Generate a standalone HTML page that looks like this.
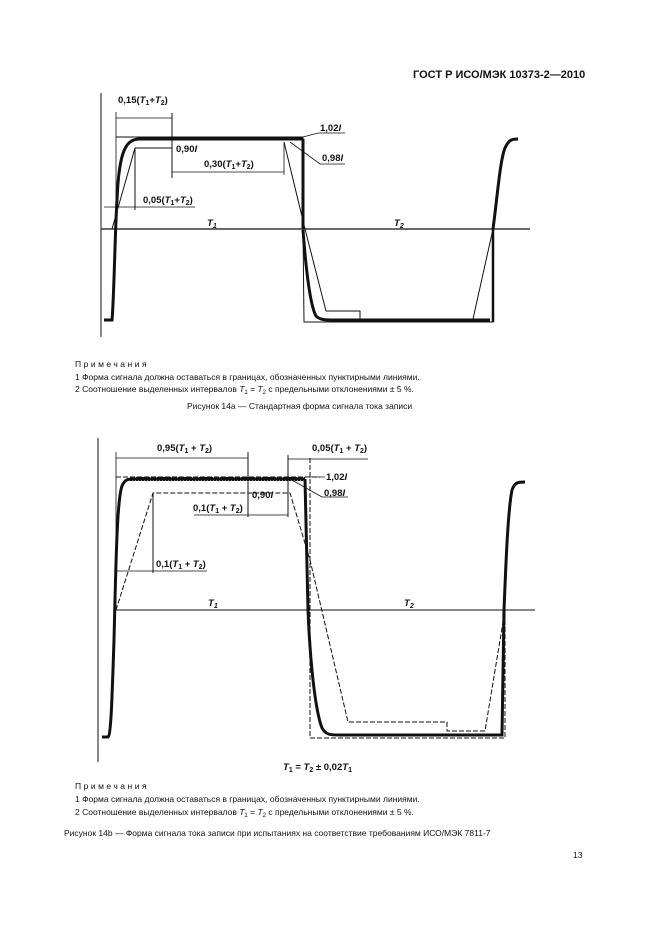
<!DOCTYPE html>
<html><head><meta charset="utf-8"><style>
html,body{margin:0;padding:0;background:#fff}
svg{display:block}
text{font-family:"Liberation Sans",sans-serif;fill:#111}
.b{font-weight:bold;font-size:9.5px}
.n{font-size:8.5px}
.i{font-style:italic}
</style></head><body>
<svg width="661" height="936" viewBox="0 0 661 936" xmlns="http://www.w3.org/2000/svg">
<text x="413" y="78" style="font-weight:bold;font-size:11px">ГОСТ Р ИСО/МЭК 10373-2—2010</text>

<!-- Figure 14a -->
<g stroke="#111" fill="none">
<line x1="101" y1="93" x2="101" y2="337" stroke-width="1"/>
<line x1="101" y1="229" x2="530" y2="229" stroke-width="1.2"/>
<!-- upper limit -->
<line x1="116" y1="137" x2="303" y2="137" stroke-width="1"/>
<line x1="116" y1="112" x2="116" y2="229" stroke-width="0.8"/>
<!-- dims -->
<line x1="116" y1="118" x2="172" y2="118" stroke-width="0.8"/>
<line x1="172" y1="113" x2="172" y2="178" stroke-width="1"/>
<line x1="172" y1="172" x2="284" y2="172" stroke-width="0.8"/>
<line x1="284" y1="142" x2="284" y2="175" stroke-width="0.8"/>
<line x1="104" y1="207" x2="195" y2="207" stroke-width="0.8"/>
<line x1="135" y1="148" x2="135" y2="210" stroke-width="1"/>
<!-- lower trapezoid -->
<polyline points="112,229 135,148 172,148" stroke-width="1"/>
<polyline points="284,142 305,229 326,311 360,311 360,319" stroke-width="1"/>
<polyline points="473,319 493,229 303,229" stroke-width="0" />
<line x1="473" y1="319" x2="493" y2="229" stroke-width="1"/>
<!-- outer bound -->
<polyline points="303,137 303,229 304,322 493,322 493,229" stroke-width="1"/>
<line x1="303" y1="139" x2="303" y2="229" stroke-width="3"/>
<line x1="493" y1="229" x2="493" y2="322" stroke-width="2.5"/>
<!-- signal -->
<path d="M104,320 L112,320 C114,300 115,230 117,200 C119,150 126,139 140,139 L303,139" stroke-width="3"/>
<path d="M303,230 C306,270 310,305 316,316 C320,320 325,320 335,320 L490,320" stroke-width="3"/>
<path d="M493,229 C497,200 500,160 505,148 C509,139 513,139 518,139" stroke-width="3"/>
<!-- leaders -->
<polyline points="303,137 318,133 345,133" stroke-width="0.8"/>
<polyline points="290,142 320,164 345,164" stroke-width="0.8"/>
</g>
<text x="118" y="103" class="b">0,15(<tspan class="i">T</tspan><tspan font-size="7" dy="2">1</tspan><tspan dy="-2">+</tspan><tspan class="i">T</tspan><tspan font-size="7" dy="2">2</tspan><tspan dy="-2">)</tspan></text>
<text x="176" y="152" class="b">0,90<tspan class="i">I</tspan></text>
<text x="204" y="167" class="b">0,30(<tspan class="i">T</tspan><tspan font-size="7" dy="2">1</tspan><tspan dy="-2">+</tspan><tspan class="i">T</tspan><tspan font-size="7" dy="2">2</tspan><tspan dy="-2">)</tspan></text>
<text x="143" y="203" class="b">0,05(<tspan class="i">T</tspan><tspan font-size="7" dy="2">1</tspan><tspan dy="-2">+</tspan><tspan class="i">T</tspan><tspan font-size="7" dy="2">2</tspan><tspan dy="-2">)</tspan></text>
<text x="320" y="131" class="b">1,02<tspan class="i">I</tspan></text>
<text x="322" y="161" class="b">0,98<tspan class="i">I</tspan></text>
<text x="207" y="226" class="b i">T<tspan font-size="7" dy="2">1</tspan></text>
<text x="394" y="226" class="b i">T<tspan font-size="7" dy="2">2</tspan></text>

<text x="75" y="367" class="n" letter-spacing="2.5">Примечания</text>
<text x="75" y="380" class="n">1  Форма сигнала должна оставаться в границах, обозначенных пунктирными линиями.</text>
<text x="75" y="392" class="n">2  Соотношение выделенных интервалов <tspan class="i">T</tspan><tspan font-size="6" dy="2">1</tspan><tspan dy="-2"> = </tspan><tspan class="i">T</tspan><tspan font-size="6" dy="2">2</tspan><tspan dy="-2"> с предельными отклонениями ± 5 %.</tspan></text>
<text x="187" y="409" class="n">Рисунок 14а — Стандартная форма сигнала тока записи</text>

<!-- Figure 14b -->
<g stroke="#111" fill="none">
<line x1="98" y1="438" x2="98" y2="762" stroke-width="1"/>
<line x1="116" y1="610" x2="535" y2="610" stroke-width="1"/>
<line x1="116" y1="452" x2="116" y2="610" stroke-width="0.8"/>
<line x1="116" y1="477" x2="320" y2="477" stroke-width="1" stroke-dasharray="5,2"/>
<line x1="116" y1="458" x2="248" y2="458" stroke-width="0.8"/>
<line x1="248" y1="452" x2="248" y2="517" stroke-width="1"/>
<line x1="194" y1="515" x2="288" y2="515" stroke-width="0.8"/>
<line x1="288" y1="455" x2="288" y2="517" stroke-width="1"/>
<line x1="288" y1="459" x2="368" y2="459" stroke-width="0.8"/>
<line x1="116" y1="571" x2="207" y2="571" stroke-width="0.8"/>
<line x1="153" y1="493" x2="153" y2="573" stroke-width="1"/>
<!-- dashed lower trapezoid -->
<polyline points="116,610 153,493 290,493 310,560 348,722 447,722 447,731 485,731 505,610" stroke-width="1" stroke-dasharray="5,2"/>
<!-- dashed outer -->
<polyline points="310,458 310,738 505,738 505,610" stroke-width="1" stroke-dasharray="5,2"/>
<!-- signal -->
<path d="M102,737 L108,737 C111,735 112,700 114,640 C116,560 117,500 122,486 C125,479 128,479 135,479 L305,479" stroke-width="3"/>
<line x1="305" y1="479" x2="308" y2="610" stroke-width="3"/>
<path d="M308,610 C310,660 315,710 322,728 C326,735 330,735 340,735 L502,735 L504,610" stroke-width="3"/>
<path d="M504,610 C506,560 508,510 512,490 C515,482 518,482 525,482" stroke-width="3"/>
<line x1="130" y1="479" x2="305" y2="479" stroke-width="4" stroke-dasharray="2,1"/>
<polyline points="290,479 322,497 348,497" stroke-width="0.8"/>
<line x1="305" y1="477" x2="325" y2="477" stroke-width="0.8"/>
</g>
<text x="157" y="451" class="b">0,95(<tspan class="i">T</tspan><tspan font-size="7" dy="2">1</tspan><tspan dy="-2"> + </tspan><tspan class="i">T</tspan><tspan font-size="7" dy="2">2</tspan><tspan dy="-2">)</tspan></text>
<text x="312" y="451" class="b">0,05(<tspan class="i">T</tspan><tspan font-size="7" dy="2">1</tspan><tspan dy="-2"> + </tspan><tspan class="i">T</tspan><tspan font-size="7" dy="2">2</tspan><tspan dy="-2">)</tspan></text>
<text x="252" y="498" class="b">0,90<tspan class="i">I</tspan></text>
<text x="193" y="511" class="b">0,1(<tspan class="i">T</tspan><tspan font-size="7" dy="2">1</tspan><tspan dy="-2"> + </tspan><tspan class="i">T</tspan><tspan font-size="7" dy="2">2</tspan><tspan dy="-2">)</tspan></text>
<text x="156" y="567" class="b">0,1(<tspan class="i">T</tspan><tspan font-size="7" dy="2">1</tspan><tspan dy="-2"> + </tspan><tspan class="i">T</tspan><tspan font-size="7" dy="2">2</tspan><tspan dy="-2">)</tspan></text>
<text x="326" y="480" class="b">1,02<tspan class="i">I</tspan></text>
<text x="324" y="496" class="b">0,98<tspan class="i">I</tspan></text>
<text x="208" y="606" class="b i">T<tspan font-size="7" dy="2">1</tspan></text>
<text x="404" y="606" class="b i">T<tspan font-size="7" dy="2">2</tspan></text>
<text x="283" y="770" class="b"><tspan class="i">T</tspan><tspan font-size="7" dy="2">1</tspan><tspan dy="-2"> = </tspan><tspan class="i">T</tspan><tspan font-size="7" dy="2">2</tspan><tspan dy="-2"> ± 0,02</tspan><tspan class="i">T</tspan><tspan font-size="7" dy="2">1</tspan></text>

<text x="75" y="789" class="n" letter-spacing="2.5">Примечания</text>
<text x="75" y="802" class="n">1  Форма сигнала должна оставаться в границах, обозначенных пунктирными линиями.</text>
<text x="75" y="815" class="n">2  Соотношение выделенных интервалов <tspan class="i">T</tspan><tspan font-size="6" dy="2">1</tspan><tspan dy="-2"> = </tspan><tspan class="i">T</tspan><tspan font-size="6" dy="2">2</tspan><tspan dy="-2"> с предельными отклонениями ± 5 %.</tspan></text>
<text x="64" y="836" class="n">Рисунок 14b — Форма сигнала тока записи при испытаниях на соответствие требованиям ИСО/МЭК 7811-7</text>
<text x="573" y="858" class="n">13</text>
</svg>
</body></html>
